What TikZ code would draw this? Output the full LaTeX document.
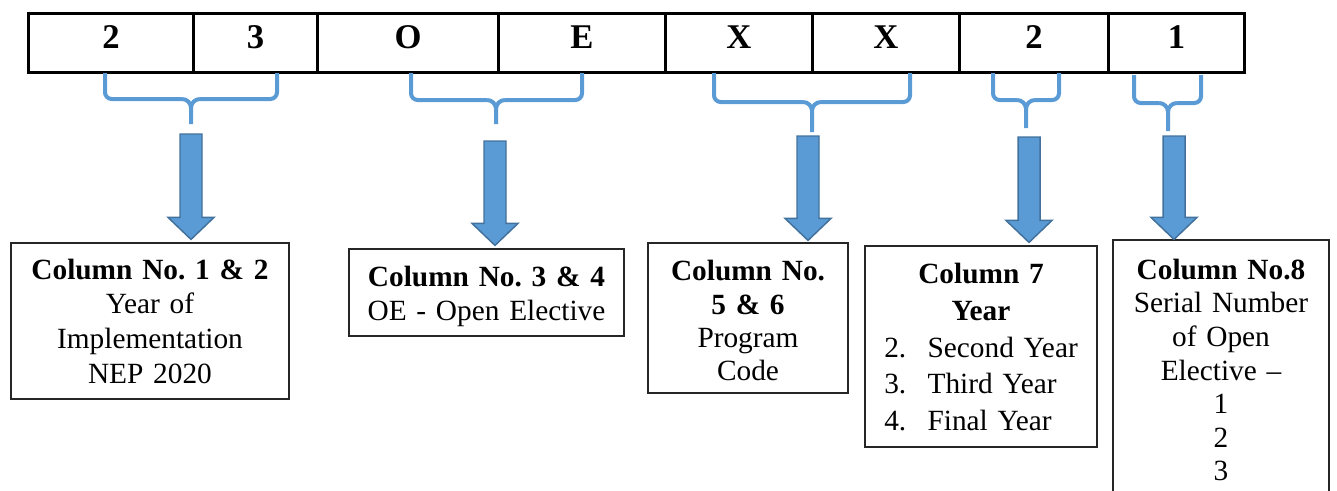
\documentclass[tikz,border=0pt]{standalone}
\usepackage{fontspec}
\setmainfont{Liberation Serif}
\usetikzlibrary{calc}

\definecolor{braceblue}{HTML}{5B9BD5}
\definecolor{arrowedge}{HTML}{41719C}
\definecolor{boxedge}{HTML}{262626}

\tikzset{
  cell/.style={draw=black, line width=2.25pt, anchor=west, minimum height=44.25pt,
    inner sep=0pt, text height=12pt, text depth=3.75pt,
    font=\fontsize{26}{30}\selectfont\bfseries},
  infobox/.style={draw=boxedge, line width=0.9pt, inner sep=0pt, align=center,
    font=\fontsize{22}{25.5}\selectfont\frenchspacing},
  bracket/.style={draw=braceblue, line width=3pt, line cap=butt, rounded corners=5pt},
  blockarrow/.style={fill=braceblue, draw=arrowedge, line width=1.1pt, line join=miter},
}

% taller first line, pushes a box's text block a little downwards
\newcommand\topstrut[1]{\rule{0pt}{#1}}

% curly brace opening downwards: #1 left x, #2 right x, #3 stem x,
% #4 top y, #5 bar y, #6 stem end y
\newcommand\codebrace[6]{%
  \draw[bracket] (#1,#4) -- (#1,#5) -- ($(#3,#5)+(-9,0)$);
  \draw[bracket] (#2,#4) -- (#2,#5) -- ($(#3,#5)+(9,0)$);
  \draw[draw=braceblue, line width=3pt]
    ($(#3,#5)+(-9,0)$) to[out=0,in=90] ($(#3,#5)+(0,9)$) -- (#3,#6);
  \draw[draw=braceblue, line width=3pt]
    ($(#3,#5)+(9,0)$) to[out=180,in=90] ($(#3,#5)+(0,9)$);
}

% block arrow pointing down from coordinate #1 to coordinate #2
\newcommand\blockdown[2]{%
  \draw[blockarrow]
    ($(#1)+(-11,0)$) -- ($(#1)+(11,0)$) --
    ($(#2)+(11,-22)$) -- ($(#2)+(23,-22)$) -- (#2) --
    ($(#2)+(-23,-22)$) -- ($(#2)+(-11,-22)$) -- cycle;
}

\begin{document}
\begin{tikzpicture}[x=0.75pt, y=-0.75pt]
\useasboundingbox (0,0) rectangle (1337,490);

% ---- code row ----
\node[cell, minimum width=123.75pt] (c1) at (27,42.5)   {2};
\node[cell, minimum width=93pt]     (c2) at (192,42.5)  {3};
\node[cell, minimum width=135.75pt] (c3) at (316,42.5)  {O};
\node[cell, minimum width=125.25pt] (c4) at (497,42.5)  {E};
\node[cell, minimum width=110.25pt] (c5) at (664,42.5)  {X};
\node[cell, minimum width=110.25pt] (c6) at (811,42.5)  {X};
\node[cell, minimum width=111.75pt] (c7) at (958,42.5)  {2};
\node[cell, minimum width=102pt]    (c8) at (1107,42.5) {1};

% ---- braces under the code ----
\codebrace{105}{277}{191}{73}{99}{124}
\codebrace{411}{582}{496}{73}{100}{124}
\codebrace{714}{910}{812}{73}{102}{132}
\codebrace{993}{1059}{1026}{73}{100}{128}
\codebrace{1134}{1201}{1168}{75}{103}{131}

% ---- explanation boxes ----
\node[infobox, minimum width=208.5pt, minimum height=117pt, text width=208.5pt,
      font=\fontsize{22}{26}\selectfont\frenchspacing]
  (b1) at (150,321)
  {\textbf{Column No. 1 \& 2}\\Year of\\Implementation\\NEP 2020};
\node[infobox, minimum width=206.25pt, minimum height=65.25pt, text width=206.25pt,
      font=\fontsize{22}{26}\selectfont\frenchspacing]
  (b2) at (486.5,292.5)
  {\topstrut{21pt}\textbf{Column No. 3 \& 4}\\OE - Open Elective};
\node[infobox, minimum width=150pt, minimum height=112.5pt, text width=150pt,
      font=\fontsize{22}{25}\selectfont\frenchspacing]
  (b3) at (748,318)
  {\topstrut{19.5pt}\textbf{Column No.}\\\textbf{5 \& 6}\\Program\\Code};
\node[infobox, minimum width=174pt, minimum height=150.75pt, text width=174pt,
      font=\fontsize{22}{27.5}\selectfont\frenchspacing]
  (b4) at (981,346.5)
  {\topstrut{24pt}\textbf{Column 7}\\\textbf{Year}\\
   \begin{tabular}[t]{@{}l@{\hspace{16pt}}l@{}}
   2. & Second Year\\
   3. & Third Year\\
   4. & Final Year
   \end{tabular}};
\node[infobox, minimum width=162pt, minimum height=195pt, text width=162pt,
      font=\fontsize{22}{25.2}\selectfont\frenchspacing]
  (b5) at (1221,370)
  {\textbf{Column No.8}\\Serial Number\\of Open\\Elective --\\1\\2\\3};

% ---- arrows from braces to boxes ----
\coordinate (a1) at (191,134);
\coordinate (a2) at (495,141);
\coordinate (a3) at (808,136);
\coordinate (a4) at (1029,137);
\coordinate (a5) at (1174,136);
\coordinate (t1) at ($(a1 |- b1.north)+(0,-3)$);
\coordinate (t2) at ($(a2 |- b2.north)+(0,-3)$);
\coordinate (t3) at ($(a3 |- b3.north)+(0,-2)$);
\coordinate (t4) at ($(a4 |- b4.north)+(0,-3)$);
\coordinate (t5) at (a5 |- b5.north);
\blockdown{a1}{t1}
\blockdown{a2}{t2}
\blockdown{a3}{t3}
\blockdown{a4}{t4}
\blockdown{a5}{t5}
\end{tikzpicture}
\end{document}
